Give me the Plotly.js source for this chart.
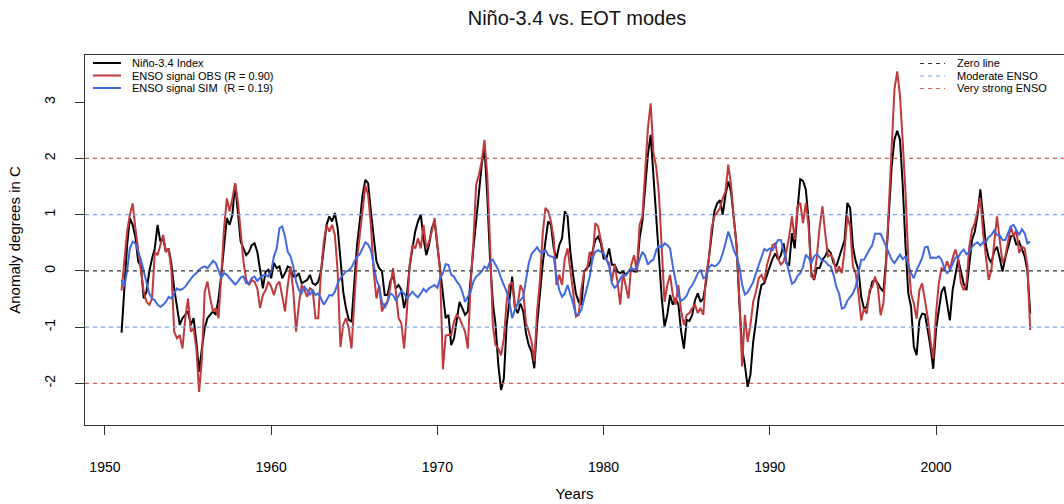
<!DOCTYPE html>
<html>
<head>
<meta charset="utf-8">
<script src="https://cdn.plot.ly/plotly-3.0.1.min.js"></script>
<style>
  html, body { margin: 0; padding: 0; background: #fff; }
  #chart { width: 1064px; height: 504px; }
</style>
</head>
<body>
<div id="chart"></div>
<script>
// Two-monthly anomaly samples (degrees C), starting January 1951.
const START_YEAR = 1951;
const SAMPLES_PER_YEAR = 6;

// Observed Niño-3.4 index
const nino34 = [
  -1.10,-0.37,0.46,0.94,0.82,0.60,0.17,0.08,-0.49,-0.37,-0.01,0.22,0.40,0.82,0.52,0.58,0.34,0.40,0.11,-0.31,-0.61,-0.96,-0.84,-0.78,-0.72,-0.96,-0.84,-1.26,-1.79,-1.38,-1.02,-0.84,-0.78,-0.72,-0.78,-0.49,-0.07,0.46,0.94,0.82,1.00,1.55,1.06,0.52,0.40,
  0.28,0.34,0.46,0.49,0.34,0.02,-0.31,-0.01,0.02,-0.13,0.14,0.05,0.08,-0.13,-0.04,0.08,0.05,-0.10,-0.10,-0.04,-0.22,-0.19,-0.16,-0.07,-0.22,-0.25,-0.19,-0.01,0.46,0.82,0.97,0.88,1.03,0.76,0.22,-0.37,-0.66,-0.87,-0.90,-0.13,0.46,0.88,1.35,1.62,1.56,1.06,0.64,0.17,
  0.05,-0.01,-0.43,-0.43,-0.19,-0.07,-0.31,-0.25,-0.34,-0.66,-0.43,0.08,0.40,0.70,0.88,1.00,0.58,0.28,0.46,0.76,0.88,0.46,0.11,-0.37,-0.84,-0.78,-1.32,-1.20,-0.84,-0.55,-0.66,-0.78,-0.72,-0.13,0.40,0.88,1.41,1.89,2.20,1.35,0.22,-0.55,-0.96,-1.67,-2.12,-1.91,-0.96,-0.49,-0.10,
  -0.65,-0.75,-0.58,-0.72,-1.11,-1.32,-1.44,-1.73,-0.96,-0.37,0.11,0.52,0.88,0.82,0.40,0.22,0.46,0.58,1.06,0.97,0.34,-0.07,-0.40,-0.55,-0.60,-0.01,0.06,0.11,0.34,0.55,0.61,0.49,0.22,0.22,0.40,0.11,0.11,-0.01,-0.04,-0.01,-0.07,-0.01,0.05,-0.01,-0.01,0.58,0.88,1.47,2.07,
  2.42,1.70,0.90,0.11,-0.49,-0.99,-0.78,-0.43,-0.60,-0.49,-0.60,-1.08,-1.38,-0.87,-0.89,-0.78,-0.52,-0.40,-0.55,-0.49,-0.19,0.22,0.70,1.06,1.20,1.26,1.00,1.35,1.59,1.41,0.94,0.46,-0.55,-1.38,-1.67,-2.06,-1.85,-1.26,-0.90,-0.49,-0.25,-0.22,-0.07,0.08,0.22,0.31,0.20,0.28,
  0.49,0.14,0.11,0.67,0.40,1.09,1.63,1.60,1.45,0.91,-0.04,-0.16,0.05,0.05,0.20,0.26,0.38,0.32,0.14,0.08,0.23,0.40,0.55,1.21,1.12,0.43,0.17,0.02,-0.46,-0.67,-0.64,-0.40,-0.19,-0.16,-0.22,-0.31,-0.37,0.20,0.97,1.86,2.34,2.49,2.34,1.51,0.43,-0.40,-0.64,-1.35,-1.50,
  -0.88,-0.76,-0.77,-1.05,-1.35,-1.74,-1.05,-0.70,-0.37,-0.28,-0.58,-0.88,-0.34,-0.10,0.20,-0.01,-0.23,-0.34,0.14,0.55,0.70,1.00,1.45,0.91,0.46,0.23,0.14,0.35,0.43,0.23,-0.01,0.23,0.43,0.61,0.64,0.46,0.52,0.40,0.26,0.00,-0.76
];

// ENSO signal reconstructed from the observed EOT modes
const ensoObs = [
  -0.35,0.22,0.70,1.00,1.20,0.75,0.34,-0.07,-0.37,-0.55,-0.60,-0.50,0.34,0.28,0.46,0.64,0.34,0.40,0.00,-1.08,-1.20,-1.14,-1.38,-0.84,-0.49,-1.08,-1.02,-1.38,-2.15,-1.55,-0.37,-0.19,-0.49,-0.72,-0.66,-0.84,-0.07,0.76,1.29,1.06,1.29,1.56,1.23,0.70,0.17,
  -0.16,-0.25,-0.16,-0.19,-0.31,-0.66,-0.43,-0.34,-0.19,-0.28,-0.43,-0.25,-0.19,-0.49,-0.72,-0.25,0.08,-0.37,-1.08,-0.60,-0.25,-0.34,-0.46,-0.31,-0.34,-0.84,-0.84,-0.01,0.52,0.82,0.70,0.82,0.64,-0.01,-1.35,-0.96,-0.84,-1.02,-1.38,-0.55,0.22,0.64,1.06,1.52,1.35,0.82,-0.01,-0.49,
  -0.25,-0.72,-0.60,-0.55,-0.28,0.05,-0.37,-0.84,-0.93,-1.38,-0.72,0.11,0.46,0.40,0.58,0.40,0.82,0.40,0.52,0.70,0.94,0.52,-0.01,-1.75,-1.15,-1.14,-1.14,-0.90,-0.78,-0.84,-0.96,-1.08,-1.38,-0.25,0.52,1.53,1.71,1.95,2.33,1.71,0.52,-0.96,-1.32,-1.38,-1.50,-1.20,-0.55,-0.25,-0.20,
  -0.66,-0.60,-0.25,-0.37,-0.93,-1.08,-1.26,-1.61,-0.72,-0.19,0.64,1.12,1.06,0.88,0.58,-0.25,-0.07,-0.25,0.22,0.40,0.05,-0.37,-0.81,-0.78,-0.31,-0.01,0.02,0.34,0.20,0.85,0.79,0.52,0.31,0.20,0.14,-0.19,0.11,-0.19,-0.60,-0.04,-0.25,-0.49,0.11,0.28,-0.01,0.82,0.97,1.77,2.54,
  2.98,2.10,1.85,1.35,0.40,-0.55,-0.25,-0.07,-0.43,-0.60,-0.25,-0.72,-0.96,-0.78,-0.75,-0.66,-0.60,-0.75,-0.66,-0.78,-0.07,0.22,0.76,0.97,1.04,1.12,1.29,1.41,1.89,1.53,0.94,0.46,-0.49,-1.70,-0.78,-1.26,-0.96,-0.55,-0.37,-0.13,-0.07,-0.19,0.11,0.31,0.46,0.49,0.22,0.11,
  0.17,0.35,0.61,0.97,0.55,1.15,1.21,0.85,1.21,0.79,-0.10,-0.13,0.26,0.79,1.15,0.67,0.26,0.29,0.20,-0.04,0.08,-0.04,0.38,0.97,0.79,0.08,-0.04,-0.40,-0.88,-0.67,-0.76,-0.34,-0.28,-0.10,-0.28,-0.79,-0.58,0.14,1.09,2.28,3.23,3.55,3.11,2.28,1.39,0.20,-0.40,-0.58,-0.85,
  -0.34,-0.22,-0.52,-0.82,-1.23,-1.56,-0.76,-0.22,0.05,0.02,0.17,0.02,0.23,0.38,0.21,-0.22,-0.34,-0.22,0.43,0.73,0.85,1.09,1.30,0.67,0.26,-0.16,0.02,0.52,0.97,0.55,0.14,0.26,0.52,0.79,0.61,0.73,0.32,0.43,0.40,0.08,-1.05
];

// ENSO signal from the simulated EOT modes
const ensoSim = [
  -0.16,-0.28,0.00,0.40,0.52,0.49,0.34,0.20,0.00,-0.22,-0.40,-0.49,-0.52,-0.60,-0.64,-0.60,-0.55,-0.46,-0.49,-0.40,-0.31,-0.34,-0.32,-0.28,-0.20,-0.14,-0.08,-0.04,0.02,0.06,0.08,0.05,0.11,0.18,0.14,0.02,-0.12,-0.04,-0.07,-0.13,-0.19,-0.24,-0.19,-0.12,-0.10,
  -0.22,-0.22,-0.13,-0.10,-0.18,-0.12,-0.08,-0.07,-0.10,-0.01,0.26,0.40,0.76,0.79,0.61,0.34,0.26,0.08,-0.19,-0.34,-0.40,-0.28,-0.34,-0.43,-0.34,-0.43,-0.40,-0.49,-0.60,-0.52,-0.43,-0.44,-0.37,-0.22,-0.13,-0.07,-0.01,0.01,0.06,0.17,0.25,0.30,0.40,0.51,0.47,0.37,0.11,-0.16,
  -0.28,-0.55,-0.66,-0.55,-0.40,-0.43,-0.52,-0.43,-0.36,-0.40,-0.49,-0.43,-0.37,-0.43,-0.47,-0.40,-0.32,-0.37,-0.31,-0.28,-0.25,-0.30,-0.13,-0.04,0.12,0.11,-0.07,-0.10,-0.19,-0.25,-0.37,-0.55,-0.47,-0.37,-0.19,-0.10,-0.06,-0.01,0.08,0.04,0.17,0.20,0.11,0.02,-0.13,-0.24,-0.37,-0.55,-0.84,
  -0.69,-0.58,-0.52,-0.46,-0.16,0.14,0.30,0.37,0.42,0.34,0.31,0.37,0.28,0.26,0.24,-0.10,-0.34,-0.46,-0.40,-0.25,-0.40,-0.58,-0.78,-0.77,-0.69,-0.49,-0.25,-0.10,0.22,0.34,0.37,0.34,0.31,0.20,0.08,-0.22,-0.30,-0.25,-0.14,-0.07,-0.08,-0.01,0.05,0.02,0.06,0.20,0.34,0.27,0.11,
  0.17,0.20,0.37,0.45,0.42,0.49,0.46,0.40,0.08,-0.19,-0.43,-0.53,-0.50,-0.44,-0.32,-0.25,-0.16,-0.04,0.02,-0.13,-0.10,0.06,0.11,0.08,0.11,0.17,0.31,0.49,0.70,0.55,0.37,0.26,0.08,-0.24,-0.42,-0.38,-0.28,-0.20,-0.04,0.11,0.27,0.39,0.36,0.40,0.37,0.46,0.55,0.55,
  0.35,0.15,-0.03,-0.23,-0.19,-0.09,-0.04,0.07,0.29,0.23,0.14,0.26,0.30,0.24,0.18,0.17,0.11,0.08,-0.07,-0.28,-0.40,-0.67,-0.65,-0.53,-0.46,-0.40,-0.28,-0.04,0.20,0.20,0.30,0.38,0.46,0.66,0.66,0.66,0.55,0.43,0.32,0.20,0.14,0.21,0.29,0.21,0.26,0.11,-0.04,-0.13,0.02,
  0.12,0.23,0.42,0.43,0.23,0.24,0.23,0.26,0.20,0.05,-0.04,0.01,0.12,0.24,0.24,0.33,0.38,0.30,0.33,0.43,0.48,0.51,0.45,0.51,0.52,0.60,0.64,0.72,0.64,0.63,0.55,0.55,0.67,0.79,0.82,0.73,0.64,0.74,0.67,0.49,0.52
];

// Reference levels
const zeroLevel = 0;
const moderateLevel = 1;
const veryStrongLevel = 2;

// Axis ticks and labels
const xTicks = [1950, 1960, 1970, 1980, 1990, 2000];
const yTicks = [-2, -1, 0, 1, 2, 3];
const seriesNames = ['Niño-3.4 Index', 'ENSO signal OBS (R = 0.90)', 'ENSO signal SIM  (R = 0.19)'];
const levelNames = ['Zero line', 'Moderate ENSO', 'Very strong ENSO'];

// ---- styling ----
const W = 1064, H = 504;
const M = { l: 85, r: 0, t: 55, b: 79 };
const X_RANGE = [1948.8, 2007.7];
const Y_RANGE = [-2.74, 3.84];
const FONT = 'Liberation Sans, Arial, Helvetica, sans-serif';
const SERIES_COLORS = ['#000000', '#c0393b', '#4169e1'];
const LEVEL_COLORS = ['#333333', '#7aa2ec', '#d45a5a'];
const DASH = '4px,4px';

const years = nino34.map((_, i) => START_YEAR + i / SAMPLES_PER_YEAR);

const seriesTraces = [nino34, ensoObs, ensoSim].map((vals, k) => ({
  type: 'scatter',
  mode: 'lines',
  x: years,
  y: vals,
  name: seriesNames[k],
  line: { color: SERIES_COLORS[k], width: 2 },
  hoverinfo: 'skip',
  showlegend: false
}));

// horizontal reference lines spanning the whole x range
const levelTraces = [];
[[zeroLevel, 0], [moderateLevel, 1], [-moderateLevel, 1], [veryStrongLevel, 2], [-veryStrongLevel, 2]]
  .forEach(([lvl, k]) => {
    levelTraces.push({
      type: 'scatter', mode: 'lines',
      x: X_RANGE, y: [lvl, lvl],
      line: { color: LEVEL_COLORS[k], width: 1.2, dash: DASH },
      hoverinfo: 'skip', showlegend: false
    });
  });

// pixel -> paper helpers for the hand-drawn legends
const pw = W - M.l - M.r, ph = H - M.t - M.b;
const px = v => (v - M.l) / pw;
const py = v => (H - M.b - v) / ph;
const LEGEND_FONT = { family: FONT, size: 11, color: '#000' };

const shapes = [];
const annotations = [];
const leftRows = [63, 75.5, 88];
seriesNames.forEach((name, k) => {
  shapes.push({ type: 'line', xref: 'paper', yref: 'paper',
    x0: px(93), x1: px(121), y0: py(leftRows[k]), y1: py(leftRows[k]),
    line: { color: SERIES_COLORS[k], width: 2 } });
  annotations.push({ xref: 'paper', yref: 'paper', x: px(131), y: py(leftRows[k]),
    xanchor: 'left', yanchor: 'middle', showarrow: false, text: name,
    borderpad: 0, font: LEGEND_FONT });
});
const rightRows = [63.5, 76, 88.5];
levelNames.forEach((name, k) => {
  shapes.push({ type: 'line', xref: 'paper', yref: 'paper',
    x0: px(920), x1: px(945), y0: py(rightRows[k]), y1: py(rightRows[k]),
    line: { color: LEVEL_COLORS[k], width: 1.2, dash: DASH } });
  annotations.push({ xref: 'paper', yref: 'paper', x: px(956), y: py(rightRows[k]),
    xanchor: 'left', yanchor: 'middle', showarrow: false, text: name,
    borderpad: 0, font: LEGEND_FONT });
});

const layout = {
  width: W, height: H,
  margin: M,
  paper_bgcolor: '#ffffff',
  plot_bgcolor: '#ffffff',
  font: { family: FONT, color: '#000' },
  title: {
    text: 'Niño-3.4 vs. EOT modes',
    font: { family: FONT, size: 20, color: '#111' },
    xref: 'container', yref: 'container',
    x: 577 / W, xanchor: 'center',
    y: 1 - 18 / H, yanchor: 'middle'
  },
  xaxis: {
    range: X_RANGE,
    tickmode: 'array', tickvals: xTicks, ticktext: xTicks.map(String),
    ticks: 'outside', ticklen: 9, tickwidth: 1, tickcolor: '#333',
    showline: true, linecolor: '#333', linewidth: 1, mirror: true,
    showgrid: false, zeroline: false,
    tickfont: { family: FONT, size: 14, color: '#000' },
    ticklabelstandoff: 20,
    title: { text: 'Years', font: { family: FONT, size: 15, color: '#000' }, standoff: 14 }
  },
  yaxis: {
    range: Y_RANGE,
    tickmode: 'array', tickvals: yTicks, ticktext: yTicks.map(String),
    ticks: 'outside', ticklen: 9, tickwidth: 1, tickcolor: '#333',
    tickangle: -90,
    showline: true, linecolor: '#333', linewidth: 1, mirror: false,
    showgrid: false, zeroline: false,
    tickfont: { family: FONT, size: 14, color: '#000' },
    ticklabelstandoff: 14,
    title: { text: 'Anomaly degrees in C', font: { family: FONT, size: 15, color: '#000' }, standoff: 18 }
  },
  shapes: shapes,
  annotations: annotations
};

Plotly.newPlot('chart', seriesTraces.concat(levelTraces), layout, { staticPlot: true, displayModeBar: false });
</script>
</body>
</html>
